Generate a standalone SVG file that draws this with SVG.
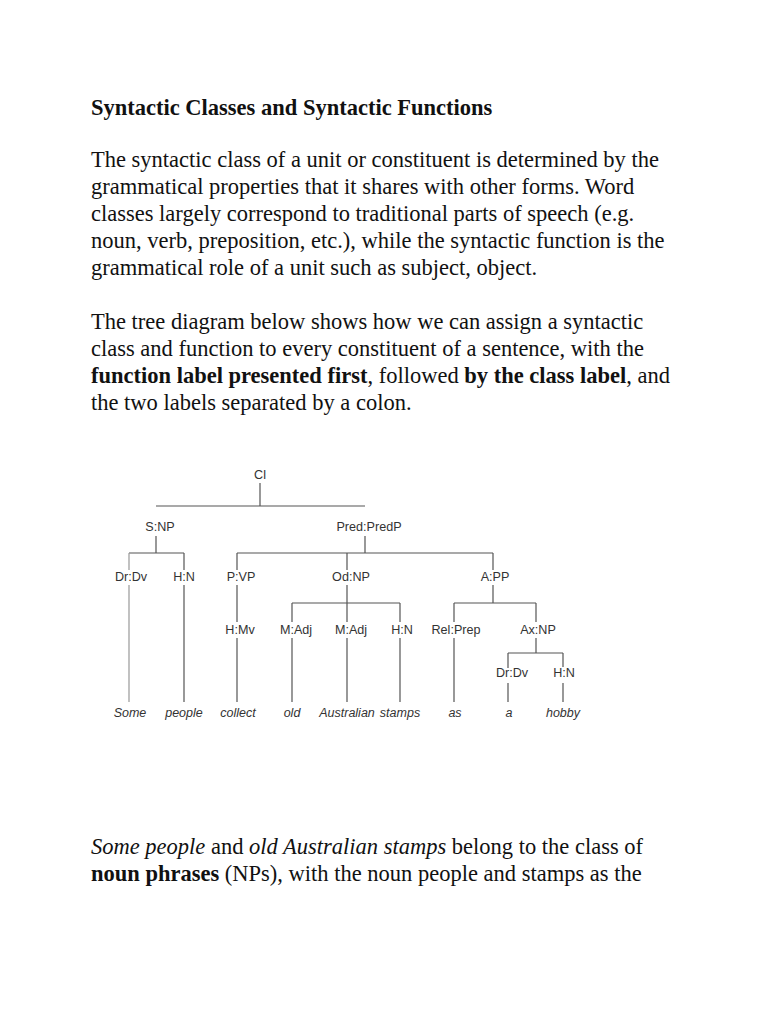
<svg xmlns="http://www.w3.org/2000/svg" width="768" height="1024" viewBox="0 0 768 1024">
<style>
.body{font-family:"Liberation Serif","Times New Roman",serif;font-size:22.5px;fill:#111}
.b{font-weight:bold}
.i{font-style:italic}
.lbl{font-family:"Liberation Sans",Arial,sans-serif;font-size:12.6px;fill:#333;text-anchor:middle}
.word{font-family:"Liberation Sans",Arial,sans-serif;font-size:12.5px;font-style:italic;fill:#333;text-anchor:middle}
.ln{stroke:#555;stroke-width:1.2;fill:none}
</style>
<rect width="768" height="1024" fill="#fff"/>
<text class="body b" x="91" y="115">Syntactic Classes and Syntactic Functions</text>
<text class="body" x="91" y="167">The syntactic class of a unit or constituent is determined by the</text>
<text class="body" x="91" y="194">grammatical properties that it shares with other forms. Word</text>
<text class="body" x="91" y="221">classes largely correspond to traditional parts of speech (e.g.</text>
<text class="body" x="91" y="248">noun, verb, preposition, etc.), while the syntactic function is the</text>
<text class="body" x="91" y="275">grammatical role of a unit such as subject, object.</text>
<text class="body" x="91" y="329">The tree diagram below shows how we can assign a syntactic</text>
<text class="body" x="91" y="356">class and function to every constituent of a sentence, with the</text>
<text class="body" x="91" y="383"><tspan class="b">function label presented first</tspan>, followed <tspan class="b">by the class label</tspan>, and</text>
<text class="body" x="91" y="410">the two labels separated by a colon.</text>
<text class="body" x="91" y="854"><tspan class="i">Some people</tspan> and <tspan class="i">old Australian stamps</tspan> belong to the class of</text>
<text class="body" x="91" y="881"><tspan class="b">noun phrases</tspan> (NPs), with the noun people and stamps as the</text>

<g id="connectors" class="ln">
<path d="M260 483V506M156 506H365"/>
<path d="M156 536V553M129 553H184"/>
<path d="M365 536V553M237 553H493"/>
<path d="M129 553V570M129 585V702" stroke="#999"/>
<path d="M184 553V570M184 585V702"/>
<path d="M237 553V570M237 585V622M237 638V702"/>
<path d="M347 553V570M347 585V603M292 603H400"/>
<path d="M493 553V570M493 585V603M454 603H536"/>
<path d="M292 603V622M292 638V702"/>
<path d="M347 603V622M347 638V702"/>
<path d="M400 603V622M400 638V702"/>
<path d="M454 603V622M454 638V702"/>
<path d="M536 603V622M536 638V653M508 653H563"/>
<path d="M508 653V668M508 683V702"/>
<path d="M563 653V667M563 683V702"/>
</g>

<g id="n-cl"><text class="lbl" x="260" y="479">Cl</text></g>
<g id="n-snp"><text class="lbl" x="160" y="531">S:NP</text></g>
<g id="n-pred"><text class="lbl" x="369" y="531">Pred:PredP</text></g>
<g id="n-drdv1"><text class="lbl" x="131" y="581">Dr:Dv</text></g>
<g id="n-hn1"><text class="lbl" x="184" y="581">H:N</text></g>
<g id="n-pvp"><text class="lbl" x="241" y="581">P:VP</text></g>
<g id="n-odnp"><text class="lbl" x="351" y="581">Od:NP</text></g>
<g id="n-app"><text class="lbl" x="495" y="581">A:PP</text></g>
<g id="n-hmv"><text class="lbl" x="240" y="634">H:Mv</text></g>
<g id="n-madj1"><text class="lbl" x="296" y="634">M:Adj</text></g>
<g id="n-madj2"><text class="lbl" x="351" y="634">M:Adj</text></g>
<g id="n-hn2"><text class="lbl" x="402" y="634">H:N</text></g>
<g id="n-relprep"><text class="lbl" x="456" y="634">Rel:Prep</text></g>
<g id="n-axnp"><text class="lbl" x="538" y="634">Ax:NP</text></g>
<g id="n-drdv2"><text class="lbl" x="512" y="677">Dr:Dv</text></g>
<g id="n-hn3"><text class="lbl" x="564" y="677">H:N</text></g>

<g id="w-some"><text class="word" x="130" y="717">Some</text></g>
<g id="w-people"><text class="word" x="184" y="717">people</text></g>
<g id="w-collect"><text class="word" x="238" y="717">collect</text></g>
<g id="w-old"><text class="word" x="292" y="717">old</text></g>
<g id="w-australian"><text class="word" x="347" y="717">Australian</text></g>
<g id="w-stamps"><text class="word" x="400" y="717">stamps</text></g>
<g id="w-as"><text class="word" x="455" y="717">as</text></g>
<g id="w-a"><text class="word" x="509" y="717">a</text></g>
<g id="w-hobby"><text class="word" x="563" y="717">hobby</text></g>
</svg>
